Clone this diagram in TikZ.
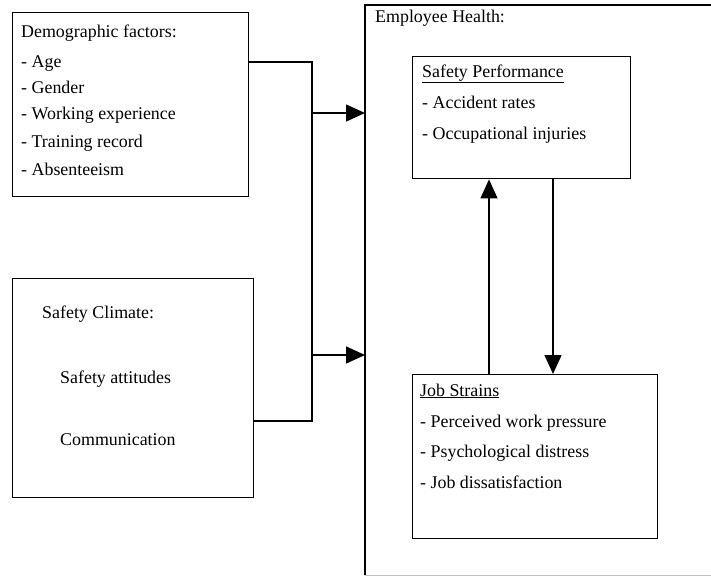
\documentclass[tikz,border=0pt]{standalone}
\usepackage{fontspec}
\setmainfont{Liberation Serif}
\usetikzlibrary{arrows.meta}
\begin{document}
\begin{tikzpicture}[x=1pt,y=-1pt,
  box/.style={draw,line width=1.4pt,anchor=north west,inner sep=0pt},
  txt/.style={anchor=base west,inner sep=0pt,font=\fontsize{17.9}{21}\selectfont},
  wire/.style={line width=1.3pt},
  arr/.style={line width=1.3pt,-{Triangle[length=19pt,width=17pt]}}]
\useasboundingbox (0,0) rectangle (711,576);
% boxes
\node[box,minimum width=236pt,minimum height=184pt] (demo) at (12,12) {};
\node[box,minimum width=241pt,minimum height=219pt] (clim) at (12,278) {};
\node[anchor=north west,inner sep=0pt,minimum width=360pt,minimum height=570pt] (eh) at (365,5) {};
\draw[line width=1.4pt] (eh.south west) -- (eh.north west) -- (eh.north east);
\draw[line width=1.4pt,black!25] (eh.south west) -- (eh.south east);
\node[box,minimum width=218pt,minimum height=122pt] (sp) at (412,56) {};
\node[box,minimum width=245pt,minimum height=164pt] (js) at (412,374) {};
% texts
\node[txt] (t1) at (21,37) {Demographic factors:};
\node[txt] (t2) at (21,67) {- Age};
\node[txt] (t3) at (21,93) {- Gender};
\node[txt] (t4) at (21,119) {- Working experience};
\node[txt] (t5) at (21,147) {- Training record};
\node[txt] (t6) at (21,175) {- Absenteeism};
\node[txt] (c1) at (42,318) {Safety Climate:};
\node[txt] (c2) at (60,383) {Safety attitudes};
\node[txt] (c3) at (60,445) {Communication};
\node[txt] (e1) at (375,22) {Employee Health:};
\node[txt] (s1) at (422,77) {\underline{Safety Performance}};
\node[txt] (s2) at (422,108) {- Accident rates};
\node[txt] (s3) at (422,139) {- Occupational injuries};
\node[txt] (j1) at (420,396) {\underline{Job Strains}};
\node[txt] (j2) at (420,427) {- Perceived work pressure};
\node[txt] (j3) at (420,457) {- Psychological distress};
\node[txt] (j4) at (420,488) {- Job dissatisfaction};
% connectors
\coordinate (ja) at (312,62);
\coordinate (jb) at (312,421);
\coordinate (ya) at (0,113);
\coordinate (yb) at (0,355);
\coordinate (ux) at (489,0);
\coordinate (dx) at (553,0);
\draw[wire] (demo.east |- ja) -- (ja) -- (jb) -- (clim.east |- jb);
\draw[arr] (ja |- ya) -- (eh.west |- ya);
\draw[arr] (ja |- yb) -- (eh.west |- yb);
\draw[arr] (js.north -| ux) -- (sp.south -| ux);
\draw[arr] (sp.south -| dx) -- (js.north -| dx);
\end{tikzpicture}
\end{document}
